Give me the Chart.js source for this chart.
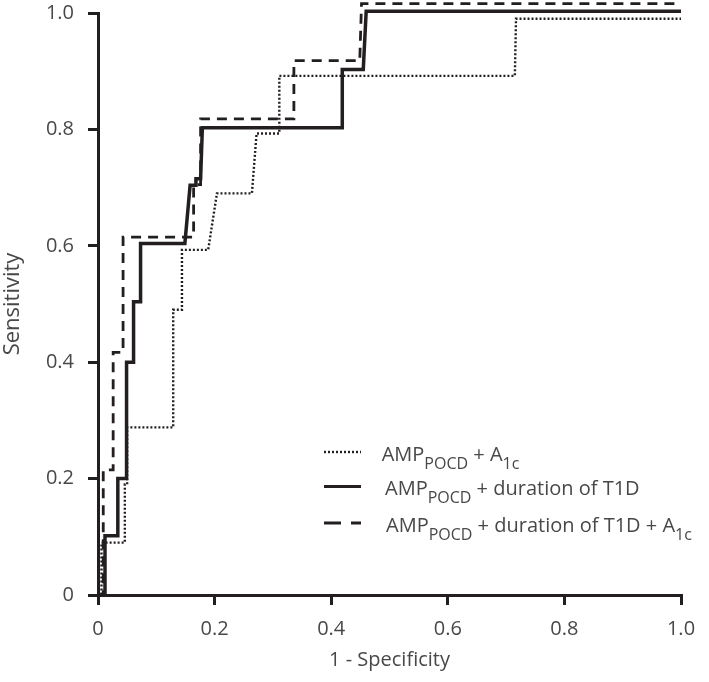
<!DOCTYPE html>
<html>
<head>
<meta charset="utf-8">
<script src="https://cdn.jsdelivr.net/npm/chart.js@4.4.1/dist/chart.umd.min.js"></script>
<style>
  html, body { margin: 0; padding: 0; background: #ffffff; }
  #wrap { width: 709px; height: 682px; }
</style>
</head>
<body>
<div id="wrap"><canvas id="c" width="709" height="682"></canvas></div>
<script>
// ---- data ----
const tickLabels = ['0', '0.2', '0.4', '0.6', '0.8', '1.0'];

// AMP_POCD + A1c (dotted)
const dottedX = [0, 0.006, 0.006, 0.046, 0.046, 0.05, 0.05, 0.129, 0.129, 0.144, 0.144, 0.189, 0.204, 0.264, 0.272, 0.311, 0.311, 0.715, 0.717, 1.0];
const dottedY = [0, 0, 0.09, 0.09, 0.19, 0.19, 0.288, 0.288, 0.49, 0.49, 0.593, 0.593, 0.69, 0.69, 0.793, 0.793, 0.892, 0.892, 0.99, 0.99];

// AMP_POCD + duration of T1D (solid)
const solidX = [0, 0.012, 0.012, 0.034, 0.034, 0.049, 0.049, 0.061, 0.061, 0.073, 0.073, 0.149, 0.158, 0.168, 0.168, 0.176, 0.179, 0.419, 0.419, 0.455, 0.46, 1.0];
const solidY = [0, 0, 0.102, 0.102, 0.2, 0.2, 0.4, 0.4, 0.504, 0.504, 0.604, 0.604, 0.704, 0.704, 0.715, 0.715, 0.803, 0.803, 0.903, 0.903, 1.003, 1.003];

// AMP_POCD + duration of T1D + A1c (dashed)
const dashedX = [0, 0.009, 0.009, 0.026, 0.026, 0.043, 0.043, 0.164, 0.164, 0.176, 0.176, 0.336, 0.336, 0.449, 0.452, 1.0];
const dashedY = [0, 0, 0.215, 0.215, 0.417, 0.417, 0.615, 0.615, 0.705, 0.705, 0.818, 0.818, 0.918, 0.918, 1.016, 1.016];

// legend labels: [text, isSubscript]
const legendDotted = [['AMP', 0], ['POCD', 1], [' + A', 0], ['1c', 1]];
const legendSolid = [['AMP', 0], ['POCD', 1], [' + duration of T1D', 0]];
const legendDashed = [['AMP', 0], ['POCD', 1], [' + duration of T1D + A', 0], ['1c', 1]];

const xTitle = '1 - Specificity';
const yTitle = 'Sensitivity';

// ---- helpers ----
const zip = (xs, ys) => xs.map((x, i) => ({ x: x, y: ys[i] }));
const INK = '#231f20';
const TEXT = '#484848';
const FONT = '"Open Sans", "Noto Sans", sans-serif';

const legendPlugin = {
  id: 'customLegend',
  afterDraw(chart) {
    const ctx = chart.ctx;
    const ca = chart.chartArea;
    const rows = [
      { parts: legendDotted, dash: [2, 2], width: 2.4, dy: 0, tx: 0 },
      { parts: legendSolid, dash: [], width: 3, dy: 34.5, tx: 3.3 },
      { parts: legendDashed, dash: [17, 10], width: 3, dy: 71, tx: 4.3 }
    ];
    const lineX0 = ca.left + 226, lineX1 = ca.left + 263;
    const baseY = ca.top + 447.7;
    const textX = ca.left + 283.7;
    ctx.save();
    rows.forEach(r => {
      const by = baseY + r.dy;
      const ly = by - 8.7;
      ctx.beginPath();
      ctx.setLineDash(r.dash);
      ctx.lineWidth = r.width;
      ctx.strokeStyle = INK;
      ctx.lineCap = 'butt';
      ctx.moveTo(lineX0, ly);
      ctx.lineTo(lineX1, ly);
      ctx.stroke();
      ctx.setLineDash([]);
      let x = textX + r.tx;
      ctx.fillStyle = TEXT;
      ctx.textBaseline = 'alphabetic';
      ctx.textAlign = 'left';
      r.parts.forEach(p => {
        if (p[1]) {
          ctx.font = '16px ' + FONT;
          ctx.fillText(p[0], x, by + 8);
        } else {
          ctx.font = '20px ' + FONT;
          ctx.fillText(p[0], x, by);
        }
        x += ctx.measureText(p[0]).width;
      });
    });
    ctx.restore();
  }
};

const axisCommon = {
  type: 'linear',
  min: 0,
  max: 1,
  grid: {
    display: true,
    drawOnChartArea: false,
    drawTicks: true,
    tickLength: 10,
    tickWidth: 3,
    tickColor: INK,
    color: INK,
    lineWidth: 3
  },
  border: { display: true, width: 3, color: INK }
};

new Chart(document.getElementById('c'), {
  type: 'line',
  data: {
    datasets: [
      {
        label: 'AMP_POCD + duration of T1D',
        data: zip(solidX, solidY),
        borderColor: INK,
        borderWidth: 3.5,
        borderJoinStyle: 'miter',
        borderCapStyle: 'butt',
        pointRadius: 0,
        fill: false,
        clip: false,
        order: 0
      },
      {
        label: 'AMP_POCD + duration of T1D + A1c',
        data: zip(dashedX, dashedY),
        borderColor: INK,
        borderWidth: 2.8,
        borderDash: [10, 7],
        borderJoinStyle: 'miter',
        borderCapStyle: 'butt',
        pointRadius: 0,
        fill: false,
        clip: false,
        order: 1
      },
      {
        label: 'AMP_POCD + A1c',
        data: zip(dottedX, dottedY),
        borderColor: INK,
        borderWidth: 2.4,
        borderDash: [2, 2],
        borderJoinStyle: 'miter',
        borderCapStyle: 'butt',
        pointRadius: 0,
        fill: false,
        clip: false,
        order: 2
      }
    ]
  },
  options: {
    responsive: false,
    devicePixelRatio: 1,
    animation: false,
    layout: { padding: { top: 0, right: 28, left: 0, bottom: 0 } },
    plugins: {
      legend: { display: false },
      tooltip: { enabled: false }
    },
    scales: {
      x: Object.assign({}, axisCommon, {
        position: 'bottom',
        ticks: {
          stepSize: 0.2,
          padding: 12,
          color: TEXT,
          font: { family: FONT, size: 20 },
          maxRotation: 0,
          callback: (v) => tickLabels[Math.round(v * 5)]
        },
        title: {
          display: true,
          text: xTitle,
          color: TEXT,
          font: { family: FONT, size: 20 },
          padding: { top: 0, bottom: 10 }
        },
        afterFit: (s) => { s.height = 87; s.paddingLeft = 0; s.paddingRight = 0; }
      }),
      y: Object.assign({}, axisCommon, {
        position: 'left',
        ticks: {
          stepSize: 0.2,
          padding: 14,
          color: TEXT,
          font: { family: FONT, size: 20 },
          callback: (v) => tickLabels[Math.round(v * 5)]
        },
        title: {
          display: true,
          text: yTitle,
          color: TEXT,
          font: { family: FONT, size: 22 },
          padding: { top: 0, bottom: 0 }
        },
        afterFit: (s) => { s.width = 98; s.paddingTop = 13; s.paddingBottom = 0; }
      })
    }
  },
  plugins: [legendPlugin]
});
</script>
</body>
</html>
